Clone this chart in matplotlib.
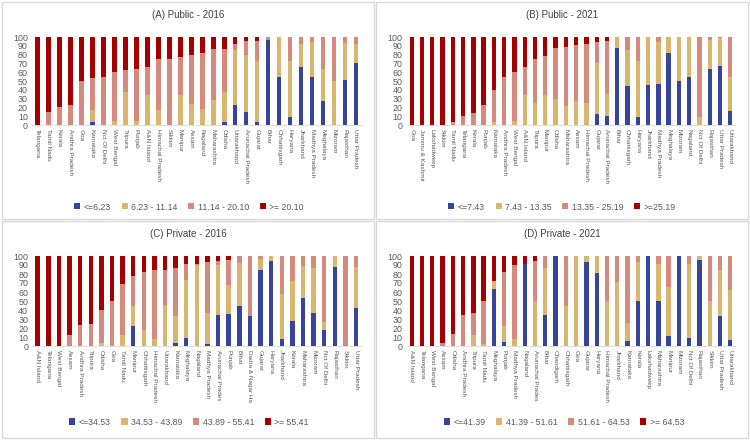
import matplotlib
matplotlib.use("Agg")
import matplotlib.pyplot as plt
import numpy as np
from matplotlib.patches import Rectangle

plt.rcParams['font.family'] = ['Liberation Sans', 'DejaVu Sans']

W, H = 750, 440
colors = ['#36449c', '#d9b66d', '#d68a7d', '#a50000']

# (A) Public - 2016
states_a = ['Telangana', 'Tamil Nadu', 'Kerala', 'Andhra Pradesh', 'Goa', 'Karnataka',
            'Nct Of Delhi', 'West Bengal', 'Tripura', 'Punjab', 'A&N Island',
            'Himachal Pradesh', 'Sikkim', 'Manipur', 'Assam', 'Nagaland', 'Maharashtra',
            'Odisha', 'Uttarakhand', 'Arunachal Pradesh', 'Gujarat', 'Bihar',
            'Chhattisgarh', 'Haryana', 'Jharkhand', 'Madhya Pradesh', 'Meghalaya',
            'Mizoram', 'Rajasthan', 'Uttar Pradesh']
blue_a = [0, 0, 0, 0, 0, 3, 0, 0, 0, 0, 0, 0, 0, 0, 0, 0, 0, 3, 23, 15, 3, 97, 55, 9, 66, 55, 27, 0, 51, 70]
tan_a = [0, 0, 0, 0, 0, 14, 0, 5, 38, 4, 34, 17, 0, 34, 24, 18, 28, 34, 62, 65, 70, 0, 45, 64, 26, 39, 37, 50, 42, 22]
salmon_a = [0, 15, 21, 23, 50, 36, 54, 55, 24, 60, 32, 58, 75, 43, 55, 64, 58, 49, 7, 15, 23, 3, 0, 27, 8, 6, 36, 50, 7, 8]
red_a = [100, 85, 79, 77, 50, 47, 46, 40, 38, 36, 34, 25, 25, 23, 21, 18, 14, 14, 8, 5, 4, 0, 0, 0, 0, 0, 0, 0, 0, 0]
legend_a = ['<=6.23', '6.23 - 11.14', '11.14 - 20.10', '>= 20.10']

# (B) Public - 2021
states_b = ['Goa', 'Jammu & Kashmir', 'Lakshadweep', 'Sikkim', 'Tamil Nadu', 'Telangana',
            'Kerala', 'Punjab', 'Karnataka', 'Andhra Pradesh', 'West Bengal', 'A&N Island',
            'Tripura', 'Manipur', 'Odisha', 'Maharashtra', 'Assam', 'Himachal Pradesh',
            'Gujarat', 'Arunachal Pradesh', 'Bihar', 'Chhattisgarh', 'Haryana', 'Jharkhand',
            'Madhya Pradesh', 'Meghalaya', 'Mizoram', 'Nagaland', 'Nct Of Delhi',
            'Rajasthan', 'Uttar Pradesh', 'Uttarakhand']
blue_b = [0, 0, 0, 0, 0, 0, 0, 0, 0, 0, 0, 0, 0, 0, 0, 0, 0, 0, 12, 10, 87, 44, 9, 46, 47, 82, 50, 54, 0, 64, 67, 16]
tan_b = [0, 0, 0, 0, 0, 0, 0, 0, 3, 0, 5, 34, 25, 34, 30, 22, 27, 25, 58, 25, 13, 41, 64, 54, 47, 18, 50, 46, 9, 33, 32, 38]
salmon_b = [0, 0, 0, 0, 3, 10, 14, 23, 37, 54, 55, 32, 50, 44, 57, 67, 64, 67, 24, 60, 0, 15, 27, 0, 6, 0, 0, 0, 91, 3, 1, 46]
red_b = [100, 100, 100, 100, 97, 90, 86, 77, 60, 46, 40, 34, 25, 22, 13, 11, 9, 8, 6, 5, 0, 0, 0, 0, 0, 0, 0, 0, 0, 0, 0, 0]
legend_b = ['<=7.43', '7.43 - 13.35', '13.35 - 25.19', '>=25.19']

# (C) Private - 2016
states_c = ['A&N Island', 'Telangana', 'West Bengal', 'Assam', 'Andhra Pradesh', 'Tripura',
            'Odisha', 'Goa', 'Tamil Nadu', 'Manipur', 'Chhattisgarh', 'Himachal Pradesh',
            'Uttarakhand', 'Karnataka', 'Meghalaya', 'Nagaland', 'Madhya Pradesh',
            'Arunachal Prades', 'Punjab', 'Bihar', 'Dadra & Nagar Ha', 'Gujarat', 'Haryana',
            'Jharkhand', 'Kerala', 'Maharashtra', 'Mizoram', 'Nct Of Delhi', 'Rajasthan',
            'Sikkim', 'Uttar Pradesh']
blue_c = [0, 0, 0, 0, 0, 0, 0, 0, 0, 22, 0, 0, 0, 3, 9, 0, 2, 35, 36, 45, 33, 85, 95, 8, 28, 53, 37, 18, 88, 0, 42]
tan_c = [0, 0, 0, 0, 0, 0, 3, 0, 12, 22, 18, 8, 46, 30, 64, 90, 35, 55, 32, 47, 0, 12, 5, 50, 44, 36, 50, 9, 12, 0, 46]
salmon_c = [0, 0, 0, 12, 23, 25, 37, 50, 57, 34, 64, 76, 39, 54, 18, 1, 56, 5, 28, 8, 67, 3, 0, 42, 28, 11, 13, 73, 0, 100, 12]
red_c = [100, 100, 100, 88, 77, 75, 60, 50, 31, 22, 18, 16, 15, 13, 9, 9, 7, 5, 4, 0, 0, 0, 0, 0, 0, 0, 0, 0, 0, 0, 0]
legend_c = ['<=34.53', '34.53 - 43.89', '43.89 - 55.41', '>= 55.41']

# (D) Private - 2021
states_d = ['A&N Island', 'Telangana', 'West Bengal', 'Assam', 'Odisha', 'Andhra Pradesh',
            'Tripura', 'Tamil Nadu', 'Meghalaya', 'Punjab', 'Madhya Pradesh', 'Nagaland',
            'Arunachal Prades', 'Bihar', 'Chandigarh', 'Chhattisgarh', 'Goa', 'Gujarat',
            'Haryana', 'Himachal Pradesh', 'Jharkhand', 'Karnataka', 'Kerala', 'Lakshadweep',
            'Maharashtra', 'Manipur', 'Mizoram', 'Nct Of Delhi', 'Rajasthan', 'Sikkim',
            'Uttar Pradesh', 'Uttarakhand']
blue_d = [0, 0, 0, 0, 0, 0, 0, 0, 63, 4, 0, 91, 0, 34, 100, 0, 0, 93, 81, 0, 0, 6, 50, 100, 50, 11, 100, 9, 96, 0, 33, 7]
tan_d = [0, 0, 0, 0, 0, 0, 12, 2, 9, 18, 8, 0, 50, 53, 0, 44, 100, 7, 19, 50, 71, 20, 43, 0, 41, 55, 0, 82, 4, 50, 52, 55]
salmon_d = [0, 0, 0, 3, 13, 34, 25, 48, 0, 60, 82, 0, 44, 13, 0, 56, 0, 0, 0, 50, 29, 74, 7, 0, 9, 34, 0, 9, 0, 50, 15, 38]
red_d = [100, 100, 100, 97, 87, 66, 63, 50, 28, 18, 10, 9, 6, 0, 0, 0, 0, 0, 0, 0, 0, 0, 0, 0, 0, 0, 0, 0, 0, 0, 0, 0]
legend_d = ['<=41.39', '41.39 - 51.61', '51.61 - 64.53', '>= 64.53']


def px_axes(fig, x0, x1, ytop, ybot):
    return fig.add_axes([x0 / W, 1 - ybot / H, (x1 - x0) / W, (ybot - ytop) / H])


def draw_panel(fig, box, first_x, last_x, ytop, ybot, states, parts, labels, title, leg_xy):
    n = len(states)
    step = (last_x - first_x) / (n - 1)
    ax = px_axes(fig, first_x - step / 2, last_x + step / 2, ytop, ybot)
    x = np.arange(n)
    bottom = np.zeros(n)
    handles = []
    for vals, c, lab in zip(parts, colors, labels):
        vals = np.array(vals, dtype=float)
        b = ax.bar(x, vals, width=0.42, bottom=bottom, color=c, label=lab)
        bottom += vals
        handles.append(b)
    ax.set_xlim(-0.5, n - 0.5)
    ax.set_ylim(0, 100)
    ax.set_yticks(range(0, 101, 10))
    ax.set_xticks(x)
    ax.set_xticklabels(states, rotation=-90, fontsize=4.6, color='#595959')
    ax.tick_params(axis='y', labelsize=6.4, labelcolor='#595959', length=0, pad=3)
    ax.tick_params(axis='x', length=0, pad=3)
    for s in ['top', 'right', 'left']:
        ax.spines[s].set_visible(False)
    ax.spines['bottom'].set_color('#d9d9d9')
    ax.spines['bottom'].set_linewidth(0.6)
    # panel frame and title
    bx0, by0, bx1, by1 = box
    fig.patches.append(Rectangle((bx0 / W, 1 - by1 / H), (bx1 - bx0) / W, (by1 - by0) / H,
                                 transform=fig.transFigure, fill=False,
                                 edgecolor='#d9d9d9', linewidth=1.0))
    fig.text((bx0 + bx1) / 2 / W, 1 - (by0 + 13) / H, title, ha='center', va='center',
             fontsize=7, color='#404040')
    fig.legend(handles=handles, loc='center', bbox_to_anchor=(leg_xy[0] / W, 1 - leg_xy[1] / H),
               ncol=4, frameon=False, fontsize=6.3, handlelength=0.7, handleheight=0.7,
               handletextpad=0.4, columnspacing=1.2, labelcolor='#595959')
    return ax


fig = plt.figure(figsize=(7.5, 4.4), dpi=100)

draw_panel(fig, (2, 2, 374, 219), 37.5, 356, 37, 125, states_a,
           [blue_a, tan_a, salmon_a, red_a], legend_a, '(A) Public - 2016', (189, 207))
draw_panel(fig, (376, 2, 748, 219), 411.7, 730.3, 37, 125, states_b,
           [blue_b, tan_b, salmon_b, red_b], legend_b, '(B) Public - 2021', (562, 207))
draw_panel(fig, (2, 221, 374, 438), 37.7, 356, 256, 346, states_c,
           [blue_c, tan_c, salmon_c, red_c], legend_c, '(C) Private - 2016', (189, 422))
draw_panel(fig, (376, 221, 748, 438), 411.7, 730.3, 256, 346, states_d,
           [blue_d, tan_d, salmon_d, red_d], legend_d, '(D) Private - 2021', (564, 422))

fig.savefig('out.png', dpi=100)
